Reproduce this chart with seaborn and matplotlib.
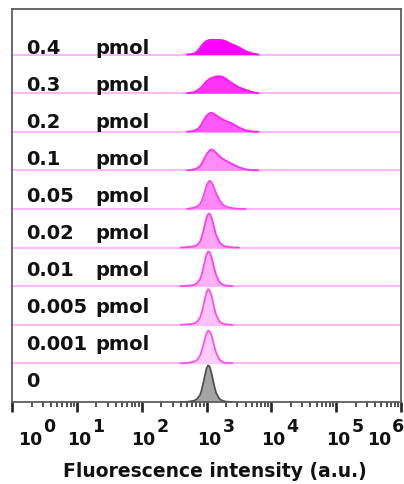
import numpy as np
import pandas as pd
import matplotlib
matplotlib.use("Agg")
import matplotlib.pyplot as plt
import matplotlib.transforms as mtransforms
import seaborn as sns

# ---------------- data ----------------
amounts = ["0", "0.001", "0.005", "0.01", "0.02", "0.05", "0.1", "0.2", "0.3", "0.4"]  # bottom -> top
show_unit = [False, True, True, True, True, True, True, True, True, True]
unit = "pmol"

# log10(fluorescence intensity) sample positions
log_grid = [2.60, 2.70, 2.80, 2.85, 2.90, 2.925, 2.95, 2.975, 3.00, 3.025, 3.05, 3.075,
            3.10, 3.125, 3.15, 3.20, 3.25, 3.30, 3.40, 3.50, 3.60, 3.70, 3.80, 3.90]

# normalised counts (fraction of a row height)
h_0     = [0, 0.005, 0.03, 0.07, 0.18, 0.31, 0.49, 0.68, 0.87, 0.95, 0.91, 0.76, 0.57, 0.38, 0.23, 0.08, 0.03, 0.01, 0, 0, 0, 0, 0, 0]
h_0001  = [0, 0.01, 0.04, 0.08, 0.20, 0.32, 0.47, 0.63, 0.77, 0.85, 0.83, 0.74, 0.58, 0.41, 0.27, 0.10, 0.03, 0.01, 0, 0, 0, 0, 0, 0]
h_0005  = [0, 0.01, 0.03, 0.07, 0.18, 0.31, 0.48, 0.67, 0.84, 0.92, 0.89, 0.77, 0.59, 0.40, 0.25, 0.09, 0.03, 0.01, 0, 0, 0, 0, 0, 0]
h_001   = [0, 0.01, 0.03, 0.07, 0.18, 0.30, 0.46, 0.65, 0.82, 0.90, 0.88, 0.77, 0.60, 0.43, 0.28, 0.11, 0.04, 0.015, 0, 0, 0, 0, 0, 0]
h_002   = [0, 0.01, 0.03, 0.06, 0.15, 0.26, 0.41, 0.60, 0.77, 0.87, 0.88, 0.79, 0.64, 0.47, 0.32, 0.14, 0.06, 0.025, 0.005, 0, 0, 0, 0, 0]
h_005   = [0, 0, 0.03, 0.06, 0.13, 0.21, 0.32, 0.46, 0.60, 0.69, 0.73, 0.70, 0.62, 0.51, 0.40, 0.23, 0.12, 0.06, 0.02, 0.005, 0, 0, 0, 0]
h_01    = [0, 0, 0.02, 0.05, 0.11, 0.17, 0.25, 0.33, 0.41, 0.47, 0.52, 0.54, 0.53, 0.49, 0.45, 0.37, 0.30, 0.25, 0.16, 0.08, 0.03, 0.005, 0, 0]
h_02    = [0, 0, 0.02, 0.06, 0.13, 0.20, 0.28, 0.35, 0.41, 0.45, 0.48, 0.49, 0.48, 0.45, 0.42, 0.37, 0.32, 0.28, 0.21, 0.11, 0.04, 0.01, 0, 0]
h_03    = [0, 0, 0.02, 0.06, 0.12, 0.16, 0.21, 0.26, 0.31, 0.34, 0.37, 0.39, 0.40, 0.42, 0.43, 0.44, 0.42, 0.37, 0.25, 0.15, 0.09, 0.03, 0, 0]
h_04    = [0, 0, 0.02, 0.07, 0.17, 0.23, 0.28, 0.32, 0.35, 0.37, 0.38, 0.38, 0.38, 0.38, 0.38, 0.38, 0.37, 0.34, 0.26, 0.19, 0.09, 0.03, 0, 0]
heights = [h_0, h_0001, h_0005, h_001, h_002, h_005, h_01, h_02, h_03, h_04]

fill_colors = ["#A4A4A4", "#FFCCF9", "#FFC2F8", "#FFB3F6", "#FFA3F4", "#FF88F5",
               "#FF8AF5", "#FF58F8", "#FF33F7", "#FF00FF"]
line_colors = ["#505050", "#FF4FE8", "#FF4FE8", "#FF45E8", "#FF3DE8", "#FF44EE",
               "#FF30EC", "#FF22F0", "#FF10F5", "#FF00FF"]
baseline_color = "#FFB8F8"

xtick_exps = [0, 1, 2, 3, 4, 5, 6]
xlabel = "Fluorescence intensity (a.u.)"

# ---------------- figure ----------------
sns.set_style("white")
plt.rcParams["font.family"] = ["DejaVu Sans"]
plt.rcParams["font.weight"] = "bold"

fig = plt.figure(figsize=(4.04, 4.84), dpi=100)
ax = fig.add_axes([12 / 404, 82 / 484, 389 / 404, 393 / 484])
ax.set_xscale("log")
ax.set_xlim(10 ** xtick_exps[0], 10 ** xtick_exps[-1])
ax.set_ylim(0, 10.18)

x_all = 10 ** np.array(log_grid)
for i, (name, h) in enumerate(zip(amounts, heights)):
    h = np.array(h)
    nz = np.nonzero(h)[0]
    a, b = max(nz[0] - 1, 0), min(nz[-1] + 1, len(h) - 1)
    xs = x_all[a:b + 1]
    y = i + h[a:b + 1]
    if i > 0:
        ax.axhline(i, color=baseline_color, lw=1.5, zorder=1)
    ax.fill_between(xs, i, y, color=fill_colors[i], lw=0, zorder=2)
    df = pd.DataFrame({"x": xs, "y": y})
    sns.lineplot(data=df, x="x", y="y", ax=ax, color=line_colors[i], lw=1.3,
                 sort=False, estimator=None, zorder=3)

# row labels
trans = mtransforms.blended_transform_factory(ax.transAxes, ax.transData)
for k, name in enumerate(amounts):
    ty = 0.39 + 0.959 * k
    ax.text(14 / 389, ty, name, transform=trans, fontsize=14, fontweight="bold",
            ha="left", va="baseline", color="#111111")
    if show_unit[k]:
        ax.text(83 / 389, ty, unit, transform=trans, fontsize=14, fontweight="bold",
                ha="left", va="baseline", color="#111111")

# spines and ticks
for s in ax.spines.values():
    s.set_color("#5E5E5E")
    s.set_linewidth(1.3)
ax.set_yticks([])
ax.set_xticks([10.0 ** e for e in xtick_exps])
ax.set_xticklabels([])
ax.xaxis.set_minor_locator(matplotlib.ticker.LogLocator(base=10, subs=np.arange(2, 10)))
ax.xaxis.set_minor_formatter(matplotlib.ticker.NullFormatter())
ax.tick_params(axis="x", which="major", direction="out", length=7.5, width=1.9, color="#222222", bottom=True)
ax.tick_params(axis="x", which="minor", direction="out", length=3.8, width=1.1, color="#222222", bottom=True)
ax.set_xlabel("")
ax.set_ylabel("")

# tick labels "10" + superscript exponent
label_dx_px = [18.5, 2, 2, 3, 2, 2, -22]
xtrans = ax.get_xaxis_transform()
for e, dx in zip(xtick_exps, label_dx_px):
    xr = (dx + 12) * 0.72
    ax.annotate("10", xy=(10.0 ** e, 0), xycoords=xtrans, xytext=(xr, -43 * 0.72),
                textcoords="offset points", ha="right", va="baseline",
                fontsize=12.5, fontweight="bold", color="#111111", annotation_clip=False)
    ax.annotate(str(e), xy=(10.0 ** e, 0), xycoords=xtrans, xytext=(xr + 0.7, -30 * 0.72),
                textcoords="offset points", ha="left", va="baseline",
                fontsize=12.5, fontweight="bold", color="#111111", annotation_clip=False)

fig.text(215 / 404, 1 - 477 / 484, xlabel, ha="center", va="baseline",
         fontsize=13.5, fontweight="bold", color="#111111")

fig.savefig("out.png", dpi=100)
